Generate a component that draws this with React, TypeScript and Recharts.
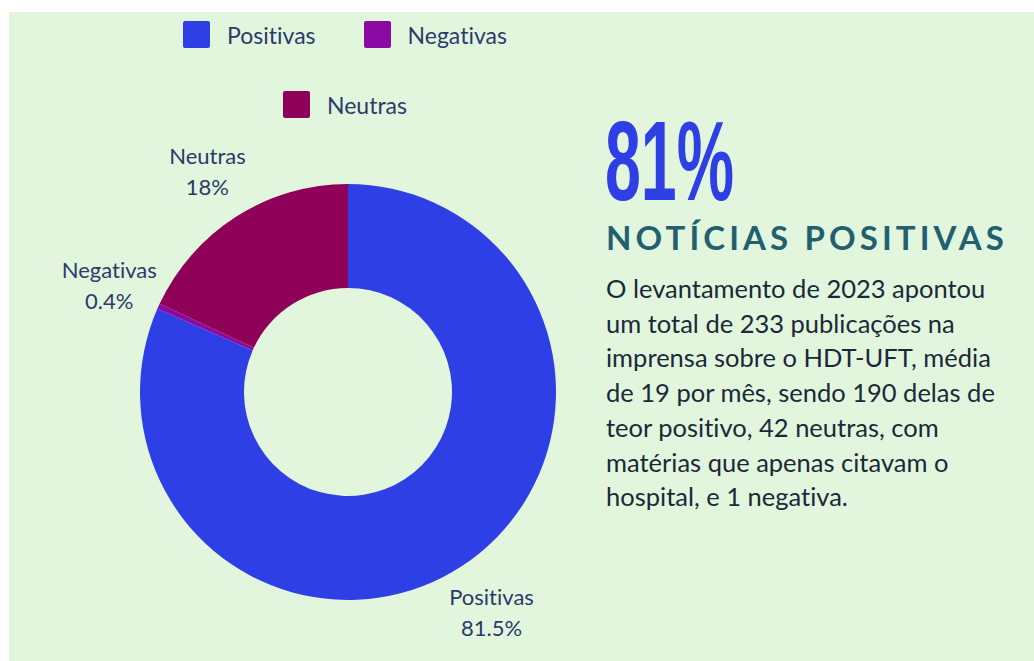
import { PieChart, Pie, Cell, Legend } from "recharts";

const CATEGORIES = ["Positivas", "Negativas", "Neutras"];
const COUNTS = [190, 1, 42];
const COLORS = ["#2f3fe6", "#8a0aa3", "#8f0058"];

const BG = "#e2f6de";
const LABEL_COLOR = "#2b3a6b";

const data = CATEGORIES.map((name, i) => ({ name, value: COUNTS[i] }));

const RADIAN = Math.PI / 180;

function fmtPct(p: number) {
  const s = (p * 100).toFixed(1);
  return (s.endsWith(".0") ? s.slice(0, -2) : s) + "%";
}

function renderLabel(props: any) {
  const { cx, cy, midAngle, outerRadius, percent, name } = props;
  const r = outerRadius + 54;
  const x = cx + r * Math.cos(-midAngle * RADIAN);
  const y = cy + r * Math.sin(-midAngle * RADIAN);
  return (
    <text
      x={x}
      y={y}
      fill={LABEL_COLOR}
      textAnchor="middle"
      fontFamily="Lato, sans-serif"
      fontSize={22}
      style={{ fontVariantLigatures: "none" }}
    >
      <tspan x={x} y={y - 15} dominantBaseline="central">{name}</tspan>
      <tspan x={x} y={y + 16} dominantBaseline="central">{fmtPct(percent)}</tspan>
    </text>
  );
}

function LegendContent() {
  return (
    <div
      style={{
        display: "flex",
        flexWrap: "wrap",
        justifyContent: "center",
        columnGap: 48,
        rowGap: 43,
        fontFamily: "Lato, sans-serif",
        fontSize: 23,
        color: LABEL_COLOR,
        fontVariantLigatures: "none",
      }}
    >
      {CATEGORIES.map((c, i) => (
        <div key={c} style={{ display: "flex", alignItems: "center", height: 27 }}>
          <span
            style={{
              width: 27,
              height: 27,
              borderRadius: 2,
              backgroundColor: COLORS[i],
              display: "inline-block",
              marginRight: 17,
            }}
          />
          <span>{c}</span>
        </div>
      ))}
    </div>
  );
}

export default function App() {
  return (
    <div
      style={{
        position: "absolute",
        left: 9,
        top: 12,
        width: 1025,
        height: 649,
        background: BG,
        overflow: "hidden",
      }}
    >
      <PieChart
        width={580}
        height={649}
        margin={{ top: 0, right: 0, bottom: 0, left: 0 }}
        style={{ position: "absolute", left: 0, top: 0 }}
      >
        <Legend
          content={<LegendContent />}
          wrapperStyle={{ position: "absolute", top: 9, left: 153, width: 366 }}
        />
        <Pie
          data={data}
          dataKey="value"
          nameKey="name"
          cx={339}
          cy={380}
          innerRadius={104}
          outerRadius={208}
          startAngle={90}
          endAngle={-270}
          stroke="none"
          label={renderLabel}
          labelLine={false}
          isAnimationActive={false}
        >
          {data.map((d, i) => (
            <Cell key={d.name} fill={COLORS[i]} />
          ))}
        </Pie>
      </PieChart>

      <div
        style={{
          position: "absolute",
          left: 596,
          top: 86,
          fontFamily: "'Liberation Sans', sans-serif",
          fontWeight: 700,
          fontSize: 114,
          lineHeight: "126px",
          color: "#2f3fe6",
          transform: "scaleX(0.565)",
          transformOrigin: "left top",
          whiteSpace: "nowrap",
        }}
      >
        81%
      </div>

      <div
        style={{
          position: "absolute",
          left: 597,
          top: 205,
          fontFamily: "Lato, sans-serif",
          fontWeight: 700,
          fontSize: 33,
          lineHeight: "40px",
          letterSpacing: 4.1,
          color: "#22606f",
          whiteSpace: "nowrap",
        }}
      >
        NOTÍCIAS POSITIVAS
      </div>

      <div
        style={{
          position: "absolute",
          left: 597,
          top: 259,
          fontFamily: "Lato, sans-serif",
          fontSize: 25.5,
          lineHeight: "34.7px",
          color: "#1b2838",
          whiteSpace: "nowrap",
          fontVariantLigatures: "none",
        }}
      >
        O levantamento de 2023 apontou
        <br />
        um total de 233 publicações na
        <br />
        imprensa sobre o HDT-UFT, média
        <br />
        de 19 por mês, sendo 190 delas de
        <br />
        teor positivo, 42 neutras, com
        <br />
        matérias que apenas citavam o
        <br />
        hospital, e 1 negativa.
      </div>
    </div>
  );
}
